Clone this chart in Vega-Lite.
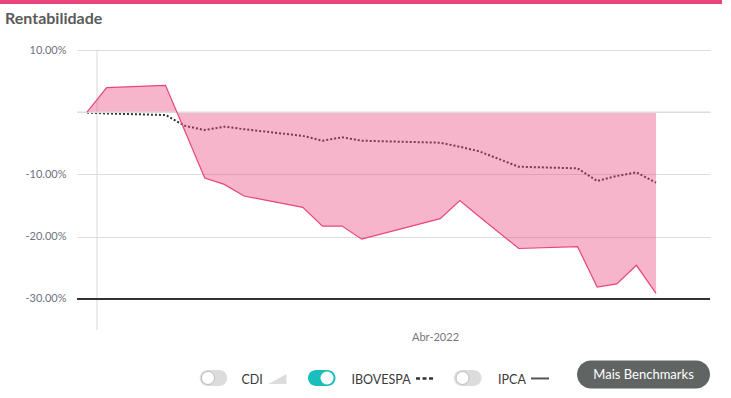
{
  "$schema": "https://vega.github.io/schema/vega-lite/v6.json",
  "width": 633,
  "height": 280,
  "autosize": {"type": "none"},
  "padding": {"left": 77, "top": 50, "right": 21, "bottom": 68},
  "background": "white",
  "config": {"view": {"stroke": null}, "font": "Lato"},
  "datasets": {
    "serie": [
      {"date": "2022-03-31T00:00:00Z", "fundo": 0, "ibov": -0.05},
      {"date": "2022-04-01T00:00:00Z", "fundo": 3.94, "ibov": -0.2},
      {"date": "2022-04-04T00:00:00Z", "fundo": 4.32, "ibov": -0.45},
      {"date": "2022-04-05T00:00:00Z", "fundo": -3.1, "ibov": -2.2},
      {"date": "2022-04-06T00:00:00Z", "fundo": -10.58, "ibov": -2.86},
      {"date": "2022-04-07T00:00:00Z", "fundo": -11.6, "ibov": -2.33},
      {"date": "2022-04-08T00:00:00Z", "fundo": -13.47, "ibov": -2.73},
      {"date": "2022-04-11T00:00:00Z", "fundo": -15.3, "ibov": -3.8},
      {"date": "2022-04-12T00:00:00Z", "fundo": -18.3, "ibov": -4.58},
      {"date": "2022-04-13T00:00:00Z", "fundo": -18.3, "ibov": -4.03},
      {"date": "2022-04-14T00:00:00Z", "fundo": -20.4, "ibov": -4.58},
      {"date": "2022-04-18T00:00:00Z", "fundo": -17.1, "ibov": -4.9},
      {"date": "2022-04-19T00:00:00Z", "fundo": -14.2, "ibov": -5.55},
      {"date": "2022-04-20T00:00:00Z", "fundo": -16.8, "ibov": -6.3},
      {"date": "2022-04-22T00:00:00Z", "fundo": -21.9, "ibov": -8.76},
      {"date": "2022-04-25T00:00:00Z", "fundo": -21.6, "ibov": -9.02},
      {"date": "2022-04-26T00:00:00Z", "fundo": -28.1, "ibov": -11.06},
      {"date": "2022-04-27T00:00:00Z", "fundo": -27.6, "ibov": -10.25},
      {"date": "2022-04-28T00:00:00Z", "fundo": -24.6, "ibov": -9.66},
      {"date": "2022-04-29T00:00:00Z", "fundo": -29.1, "ibov": -11.33}
    ],
    "one": [{}]
  },
  "layer": [
    {
      "data": {"name": "one"},
      "mark": {"type": "rule", "color": "#d9d9d9", "strokeWidth": 1},
      "encoding": {
        "x": {"datum": {"year": 2022, "month": 3, "date": 31, "hours": 12, "minutes": 14, "utc": true}, "type": "temporal"}
      }
    },
    {
      "data": {"name": "serie"},
      "mark": {"type": "line", "color": "#333333", "strokeWidth": 2, "strokeDash": [2, 2]},
      "encoding": {
        "x": {
          "field": "date", "type": "temporal",
          "scale": {"domain": [
            {"year": 2022, "month": 3, "date": 30, "hours": 11, "minutes": 46, "utc": true},
            {"year": 2022, "month": 5, "date": 1, "hours": 18, "utc": true}
          ]},
          "axis": {
            "values": [{"year": 2022, "month": 4, "date": 17, "hours": 17, "minutes": 40, "utc": true}],
            "labelExpr": "'Abr-2022'",
            "title": null, "grid": false, "domain": false, "ticks": false, "tickSize": 0,
            "labelPadding": 1, "labelFlush": false, "labelFontSize": 11, "labelColor": "#777777", "labelFont": "Lato"
          }
        },
        "y": {
          "field": "ibov", "type": "quantitative",
          "scale": {"domain": [-35, 10], "nice": false, "zero": false},
          "axis": {
            "values": [10, 0, -10, -20, -30],
            "labelExpr": "datum.value === 0 ? '' : (datum.value < 0 ? '-' : '') + format(abs(datum.value), '.2f') + '%'",
            "title": null, "domain": false, "ticks": false, "tickSize": 0, "labelPadding": 11,
            "gridColor": "#dddddd", "gridWidth": 1, "labelColor": "#6e7380", "labelFontSize": 11, "labelFont": "Lato"
          }
        }
      }
    },
    {
      "data": {"name": "serie"},
      "mark": {"type": "area", "color": "#e8457c", "opacity": 0.4},
      "encoding": {
        "x": {"field": "date", "type": "temporal"},
        "y": {"field": "fundo", "type": "quantitative"},
        "y2": {"datum": 0}
      }
    },
    {
      "data": {"name": "one"},
      "mark": {"type": "rule", "color": "#dcdcdc", "strokeWidth": 1.5},
      "encoding": {"y": {"datum": 0, "type": "quantitative"}}
    },
    {
      "data": {"name": "serie"},
      "mark": {"type": "line", "color": "#e8457c", "strokeWidth": 1.2},
      "encoding": {
        "x": {"field": "date", "type": "temporal"},
        "y": {"field": "fundo", "type": "quantitative"}
      }
    },
    {
      "data": {"name": "one"},
      "mark": {"type": "rule", "color": "#333333", "strokeWidth": 2},
      "encoding": {"y": {"datum": -30, "type": "quantitative"}}
    },
    {
      "data": {"name": "one"},
      "mark": {"type": "rect", "color": "#e9457c"},
      "encoding": {
        "x": {"datum": {"year": 2022, "month": 3, "date": 26, "hours": 13, "minutes": 35, "utc": true}, "type": "temporal"},
        "x2": {"datum": {"year": 2022, "month": 5, "date": 2, "hours": 8, "minutes": 44, "utc": true}},
        "y": {"datum": 18.04, "type": "quantitative"},
        "y2": {"datum": 17.39}
      }
    },
    {
      "data": {"name": "one"},
      "mark": {"type": "text", "text": "Rentabilidade", "font": "Lato", "fontSize": 16, "fontWeight": "bold", "color": "#5a5a5a", "align": "left", "baseline": "alphabetic"},
      "encoding": {
        "x": {"datum": {"year": 2022, "month": 3, "date": 26, "hours": 19, "minutes": 42, "utc": true}, "type": "temporal"},
        "y": {"datum": 14.18, "type": "quantitative"}
      }
    },
    {
      "data": {"name": "one"},
      "mark": {"type": "rect", "color": "#dcdcdc", "cornerRadius": 8},
      "encoding": {
        "x": {"datum": {"year": 2022, "month": 4, "date": 5, "hours": 17, "minutes": 51, "utc": true}, "type": "temporal"},
        "x2": {"datum": {"year": 2022, "month": 4, "date": 7, "hours": 3, "minutes": 30, "utc": true}},
        "y": {"datum": -41.43, "type": "quantitative"},
        "y2": {"datum": -44.0}
      }
    },
    {
      "data": {"name": "one"},
      "mark": {"type": "point", "shape": "circle", "filled": true, "fill": "#ffffff", "stroke": "#bdbdbd", "strokeWidth": 1, "size": 169, "opacity": 1},
      "encoding": {
        "x": {"datum": {"year": 2022, "month": 4, "date": 6, "hours": 4, "minutes": 0, "utc": true}, "type": "temporal"},
        "y": {"datum": -42.71, "type": "quantitative"}
      }
    },
    {
      "data": {"name": "one"},
      "mark": {"type": "text", "text": "CDI", "font": "Lato", "fontSize": 12.5, "color": "#3a3a3a", "align": "left", "baseline": "alphabetic"},
      "encoding": {
        "x": {"datum": {"year": 2022, "month": 4, "date": 7, "hours": 20, "minutes": 58, "utc": true}, "type": "temporal"},
        "y": {"datum": -43.6, "type": "quantitative"}
      }
    },
    {
      "data": {"name": "one"},
      "mark": {"type": "point", "shape": "M -1 0.55 L 1 0.55 L 1 -0.55 Z", "filled": true, "color": "#dcdcdc", "size": 324, "opacity": 1},
      "encoding": {
        "x": {"datum": {"year": 2022, "month": 4, "date": 9, "hours": 17, "minutes": 1, "utc": true}, "type": "temporal"},
        "y": {"datum": -42.87, "type": "quantitative"}
      }
    },
    {
      "data": {"name": "one"},
      "mark": {"type": "rect", "color": "#1abfbd", "cornerRadius": 8},
      "encoding": {
        "x": {"datum": {"year": 2022, "month": 4, "date": 11, "hours": 6, "minutes": 20, "utc": true}, "type": "temporal"},
        "x2": {"datum": {"year": 2022, "month": 4, "date": 12, "hours": 15, "minutes": 58, "utc": true}},
        "y": {"datum": -41.43, "type": "quantitative"},
        "y2": {"datum": -44.0}
      }
    },
    {
      "data": {"name": "one"},
      "mark": {"type": "point", "shape": "circle", "filled": true, "fill": "#ffffff", "strokeWidth": 0, "size": 169, "opacity": 1},
      "encoding": {
        "x": {"datum": {"year": 2022, "month": 4, "date": 12, "hours": 5, "minutes": 34, "utc": true}, "type": "temporal"},
        "y": {"datum": -42.71, "type": "quantitative"}
      }
    },
    {
      "data": {"name": "one"},
      "mark": {"type": "text", "text": "IBOVESPA", "font": "Lato", "fontSize": 12.5, "color": "#3a3a3a", "align": "left", "baseline": "alphabetic"},
      "encoding": {
        "x": {"datum": {"year": 2022, "month": 4, "date": 13, "hours": 11, "minutes": 33, "utc": true}, "type": "temporal"},
        "y": {"datum": -43.6, "type": "quantitative"}
      }
    },
    {
      "data": {"name": "one"},
      "mark": {"type": "rule", "color": "#333333", "strokeWidth": 2.5, "strokeDash": [4, 2.5]},
      "encoding": {
        "x": {"datum": {"year": 2022, "month": 4, "date": 16, "hours": 18, "minutes": 26, "utc": true}, "type": "temporal"},
        "x2": {"datum": {"year": 2022, "month": 4, "date": 17, "hours": 15, "minutes": 14, "utc": true}},
        "y": {"datum": -42.79, "type": "quantitative"}
      }
    },
    {
      "data": {"name": "one"},
      "mark": {"type": "rect", "color": "#dcdcdc", "cornerRadius": 8},
      "encoding": {
        "x": {"datum": {"year": 2022, "month": 4, "date": 18, "hours": 16, "minutes": 55, "utc": true}, "type": "temporal"},
        "x2": {"datum": {"year": 2022, "month": 4, "date": 20, "hours": 2, "minutes": 33, "utc": true}},
        "y": {"datum": -41.43, "type": "quantitative"},
        "y2": {"datum": -44.0}
      }
    },
    {
      "data": {"name": "one"},
      "mark": {"type": "point", "shape": "circle", "filled": true, "fill": "#ffffff", "stroke": "#bdbdbd", "strokeWidth": 1, "size": 169, "opacity": 1},
      "encoding": {
        "x": {"datum": {"year": 2022, "month": 4, "date": 19, "hours": 3, "minutes": 19, "utc": true}, "type": "temporal"},
        "y": {"datum": -42.71, "type": "quantitative"}
      }
    },
    {
      "data": {"name": "one"},
      "mark": {"type": "text", "text": "IPCA", "font": "Lato", "fontSize": 12.5, "color": "#3a3a3a", "align": "left", "baseline": "alphabetic"},
      "encoding": {
        "x": {"datum": {"year": 2022, "month": 4, "date": 20, "hours": 22, "minutes": 44, "utc": true}, "type": "temporal"},
        "y": {"datum": -43.6, "type": "quantitative"}
      }
    },
    {
      "data": {"name": "one"},
      "mark": {"type": "rule", "color": "#555555", "strokeWidth": 2},
      "encoding": {
        "x": {"datum": {"year": 2022, "month": 4, "date": 22, "hours": 15, "minutes": 6, "utc": true}, "type": "temporal"},
        "x2": {"datum": {"year": 2022, "month": 4, "date": 23, "hours": 13, "minutes": 6, "utc": true}},
        "y": {"datum": -42.79, "type": "quantitative"}
      }
    },
    {
      "data": {"name": "one"},
      "mark": {"type": "rect", "color": "#606462", "cornerRadius": 14},
      "encoding": {
        "x": {"datum": {"year": 2022, "month": 4, "date": 24, "hours": 23, "minutes": 23, "utc": true}, "type": "temporal"},
        "x2": {"datum": {"year": 2022, "month": 5, "date": 1, "hours": 18, "minutes": 0, "utc": true}},
        "y": {"datum": -39.9, "type": "quantitative"},
        "y2": {"datum": -44.4}
      }
    },
    {
      "data": {"name": "one"},
      "mark": {"type": "text", "text": "Mais Benchmarks", "font": "Lato", "fontSize": 13, "color": "#ffffff", "align": "center", "baseline": "alphabetic"},
      "encoding": {
        "x": {"datum": {"year": 2022, "month": 4, "date": 28, "hours": 8, "minutes": 43, "utc": true}, "type": "temporal"},
        "y": {"datum": -42.87, "type": "quantitative"}
      }
    }
  ]
}
